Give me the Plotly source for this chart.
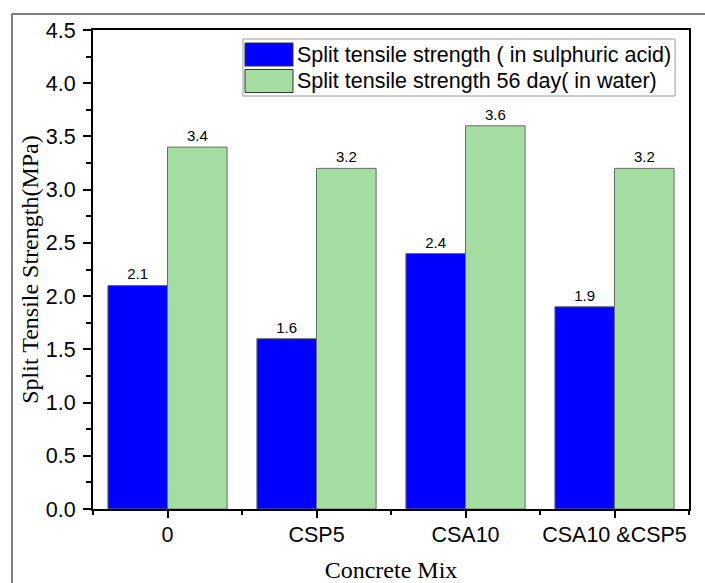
import plotly.graph_objects as go

# Split tensile strength results (MPa)
mixes = ['0', 'CSP5', 'CSA10', 'CSA10 &CSP5']
acid_strength = [2.1, 1.6, 2.4, 1.9]
water_strength = [3.4, 3.2, 3.6, 3.2]
series_names = ['Split tensile strength ( in sulphuric acid)',
                'Split tensile strength 56 day( in water)']
series_colors = ['#0000FF', '#A3DDA1']

pos = list(range(len(mixes)))

fig = go.Figure()
for vals, name, color in zip([acid_strength, water_strength], series_names, series_colors):
    fig.add_trace(go.Bar(x=pos, y=vals, name=name,
                         marker=dict(color=color, line=dict(color='#6b6b6b', width=1)),
                         text=[f'{v:.1f}' for v in vals],
                         textposition='outside',
                         textfont=dict(family='Liberation Sans, Arial', size=15, color='black'),
                         cliponaxis=False,
                         showlegend=False))

# plot area in pixels: left 93, right 689, top 30, bottom 509
def px(x):
    return (x - 93) / 596.0

def py(y):
    return (509 - y) / 479.0

shapes = []
annotations = []

# legend drawn by hand so the swatches match the big boxes of the original
shapes.append(dict(type='rect', xref='paper', yref='paper',
                   x0=px(243), x1=px(675), y0=py(96), y1=py(39),
                   line=dict(color='#9a9a9a', width=1), fillcolor='white'))
for i, (name, color) in enumerate(zip(series_names, series_colors)):
    top = 43 + i * 26.5
    shapes.append(dict(type='rect', xref='paper', yref='paper',
                       x0=px(245), x1=px(293), y0=py(top + 23), y1=py(top),
                       line=dict(color='#333333', width=1), fillcolor=color))
    annotations.append(dict(xref='paper', yref='paper', x=px(295), y=py(top + 11.5),
                            text=name, showarrow=False, xanchor='left', yanchor='middle',
                            font=dict(family='Liberation Sans, Arial', size=21.5, color='black')))

# outer frame of the figure panel
shapes.append(dict(type='line', xref='paper', yref='paper',
                   x0=px(12), x1=px(705), y0=py(14), y1=py(14),
                   line=dict(color='#555555', width=1.5)))
shapes.append(dict(type='line', xref='paper', yref='paper',
                   x0=px(12), x1=px(12), y0=py(14), y1=py(583),
                   line=dict(color='#555555', width=1.5)))

fig.update_layout(
    width=705, height=583,
    margin=dict(l=93, r=16, t=30, b=74),
    barmode='group', bargap=0.2, bargroupgap=0,
    plot_bgcolor='white', paper_bgcolor='white',
    shapes=shapes, annotations=annotations,
    xaxis=dict(range=[-0.5, 3.5], tickvals=pos, ticktext=mixes,
               automargin=False,
               showline=True, linecolor='black', linewidth=2, mirror=True,
               ticks='outside', ticklen=7, tickwidth=1.5, tickcolor='black',
               ticklabelstandoff=-2,
               minor=dict(dtick=0.5, tick0=-0.5, ticks='outside', ticklen=4,
                          tickwidth=1.5, tickcolor='black'),
               showgrid=False, zeroline=False,
               tickfont=dict(family='Liberation Sans, Arial', size=21.5, color='black'),
               title=dict(text='Concrete Mix', standoff=19,
                          font=dict(family='Liberation Serif, Times New Roman', size=24, color='black'))),
    yaxis=dict(range=[0, 4.5], dtick=0.5, tickformat='.1f',
               automargin=False,
               showline=True, linecolor='black', linewidth=2, mirror=True,
               ticks='outside', ticklen=8, tickwidth=1.5, tickcolor='black',
               ticklabelstandoff=3,
               minor=dict(dtick=0.25, ticks='outside', ticklen=5,
                          tickwidth=1.5, tickcolor='black'),
               showgrid=False, zeroline=False,
               tickfont=dict(family='Liberation Sans, Arial', size=21.5, color='black'),
               title=dict(text='Split Tensile Strength(MPa)', standoff=0,
                          font=dict(family='Liberation Serif, Times New Roman', size=24, color='black'))),
)

fig.write_html("out.html", config={'displayModeBar': False})

# drop the browser's default page margin so the figure sits at the window corner
with open("out.html", encoding="utf-8") as f:
    page = f.read()
page = page.replace("<body>", '<body style="margin:0">', 1)
with open("out.html", "w", encoding="utf-8") as f:
    f.write(page)
